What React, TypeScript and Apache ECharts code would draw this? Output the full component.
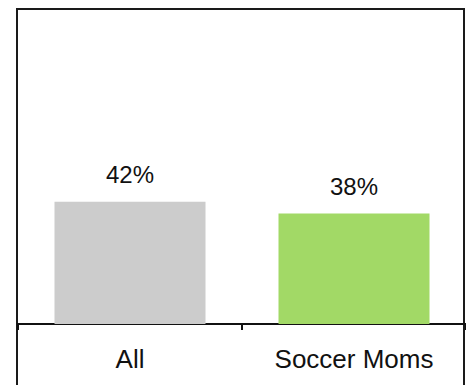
import React, { useEffect, useRef } from "react";
import * as echarts from "echarts";

const categories = ["All", "Soccer Moms"];
const values = [42, 38];
const barColors = ["#cccccc", "#a2d966"];

export default function App() {
  const ref = useRef<HTMLDivElement>(null);
  useEffect(() => {
    if (!ref.current) return;
    const chart = echarts.init(ref.current, null, { renderer: "svg" });
    chart.setOption({
      animation: false,
      backgroundColor: "#ffffff",
      grid: { left: 18, top: 8, width: 450, bottom: 61 },
      xAxis: {
        type: "category",
        data: categories,
        axisLine: { lineStyle: { color: "#111", width: 2 } },
        axisTick: { show: true, length: 6, lineStyle: { color: "#111", width: 2 } },
        axisLabel: {
          color: "#111",
          fontSize: 26,
          fontFamily: "Liberation Sans, Arial, sans-serif",
          margin: 22,
        },
      },
      yAxis: {
        type: "value",
        min: 0,
        max: 108.6,
        show: false,
        splitLine: { show: false },
      },
      series: [
        {
          type: "bar",
          barWidth: 151,
          data: values.map((v, i) => ({ value: v, itemStyle: { color: barColors[i] } })),
          label: {
            show: true,
            position: "top",
            distance: 15,
            formatter: "{c}%",
            color: "#111",
            fontSize: 24,
            fontFamily: "Liberation Sans, Arial, sans-serif",
          },
        },
      ],
      graphic: [
        { type: "line", shape: { x1: 17, y1: 8, x2: 17, y2: 385 }, style: { stroke: "#1a1a1a", lineWidth: 2 } },
        { type: "line", shape: { x1: 16, y1: 9, x2: 465, y2: 9 }, style: { stroke: "#1a1a1a", lineWidth: 2 } },
        { type: "line", shape: { x1: 464, y1: 8, x2: 464, y2: 385 }, style: { stroke: "#1a1a1a", lineWidth: 2 } },
      ],
    });
    return () => chart.dispose();
  }, []);
  return (
    <div
      ref={ref}
      style={{ position: "fixed", left: 0, top: 0, width: 466, height: 385 }}
    />
  );
}
